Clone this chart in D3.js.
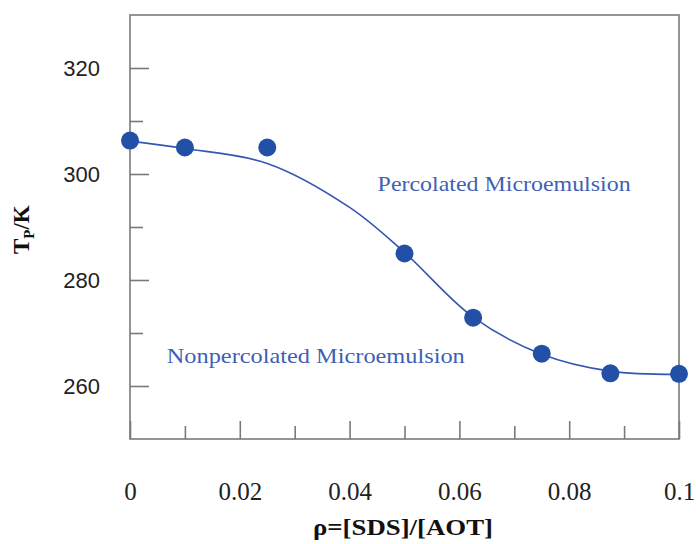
<!DOCTYPE html>
<meta charset="utf-8">
<html>
<head>
<script src="https://cdn.jsdelivr.net/npm/d3@7"></script>
<style>
  body { margin: 0; background: #fff; }
  .axis path, .axis line { stroke: #7a7a7a; stroke-width: 1.6; }
  .axis .domain { display: none; }
</style>
</head>
<body>
<div id="chart"></div>
<script>
  // measured points, rho = [SDS]/[AOT] vs percolation temperature
  const rho   = [0, 0.01, 0.025, 0.05, 0.0625, 0.075, 0.0875, 0.1];
  const tperc = [306.3, 305.0, 305.0, 285.0, 272.9, 266.1, 262.4, 262.3];

  // fitted curve
  const fitRho = [0, 0.01, 0.025, 0.04, 0.05, 0.0625, 0.075, 0.0875, 0.1];
  const fitT   = [306.2, 304.8, 302.0, 293.7, 285.2, 273.0, 266.0, 262.8, 262.2];

  const xMajor = [0, 0.02, 0.04, 0.06, 0.08, 0.1];
  const xMinor = [0.01, 0.03, 0.05, 0.07, 0.09];
  const yMajor = [260, 280, 300, 320];
  const yMinor = [270, 290, 310];

  const margin = {top: 15, right: 17, bottom: 105, left: 130},
      width = 696 - margin.left - margin.right,
      height = 544 - margin.top - margin.bottom;

  const blue = "#2150a6";

  const svg = d3.select("#chart")
    .append("svg")
      .attr("width", width + margin.left + margin.right)
      .attr("height", height + margin.top + margin.bottom)
    .append("g")
      .attr("transform", `translate(${margin.left},${margin.top})`);

  const x = d3.scaleLinear().domain([0, 0.1]).range([0, width]);
  const y = d3.scaleLinear().domain([250, 330]).range([height, 0]);

  // x axis, ticks pointing into the plot
  svg.append("g")
    .attr("class", "axis")
    .attr("transform", `translate(0,${height})`)
    .call(d3.axisBottom(x).tickValues(xMinor).tickSizeInner(-13).tickFormat(""));
  const xAxis = svg.append("g")
    .attr("class", "axis")
    .attr("transform", `translate(0,${height})`)
    .call(d3.axisBottom(x).tickValues(xMajor).tickSizeInner(-18).tickPadding(43)
      .tickFormat(d => String(+d.toFixed(2))));
  xAxis.selectAll("text")
    .style("font-family", "'Liberation Serif', serif")
    .style("font-size", "25px")
    .attr("fill", "#222");

  // y axis
  svg.append("g")
    .attr("class", "axis")
    .call(d3.axisLeft(y).tickValues(yMinor).tickSizeInner(-13).tickFormat(""));
  const yAxis = svg.append("g")
    .attr("class", "axis")
    .call(d3.axisLeft(y).tickValues(yMajor).tickSizeInner(-19).tickPadding(30));
  yAxis.selectAll("text")
    .style("font-family", "'Liberation Sans', Arial, sans-serif")
    .style("font-size", "22px")
    .attr("fill", "#222");

  // frame
  svg.append("rect")
    .attr("width", width)
    .attr("height", height)
    .attr("fill", "none")
    .attr("stroke", "#7a7a7a")
    .attr("stroke-width", 1.6);

  // fit curve
  const line = d3.line()
    .x((d, i) => x(d))
    .y((d, i) => y(fitT[i]))
    .curve(d3.curveCatmullRom.alpha(0.5));
  svg.append("path")
    .datum(fitRho)
    .attr("d", line)
    .attr("fill", "none")
    .attr("stroke", "#3556b3")
    .attr("stroke-width", 1.6);

  // points
  svg.selectAll("circle")
    .data(rho)
    .join("circle")
      .attr("cx", d => x(d))
      .attr("cy", (d, i) => y(tperc[i]))
      .attr("r", 9)
      .attr("fill", blue);

  // region labels
  svg.append("text")
    .attr("x", x(0.0451))
    .attr("y", y(296.8))
    .attr("fill", "#3f5fb5")
    .attr("textLength", 253)
    .attr("lengthAdjust", "spacingAndGlyphs")
    .style("font-family", "'Liberation Serif', serif")
    .style("font-size", "22px")
    .text("Percolated Microemulsion");
  svg.append("text")
    .attr("x", x(0.0067))
    .attr("y", y(264.4))
    .attr("fill", "#3f5fb5")
    .attr("textLength", 298)
    .attr("lengthAdjust", "spacingAndGlyphs")
    .style("font-family", "'Liberation Serif', serif")
    .style("font-size", "22px")
    .text("Nonpercolated Microemulsion");

  // axis titles
  svg.append("text")
    .attr("x", 403 - margin.left)
    .attr("y", height + 96)
    .attr("text-anchor", "middle")
    .attr("fill", "#111")
    .attr("textLength", 180)
    .attr("lengthAdjust", "spacingAndGlyphs")
    .style("font-family", "'Liberation Serif', serif")
    .style("font-size", "24px")
    .style("font-weight", "bold")
    .text("ρ=[SDS]/[AOT]");

  const yt = svg.append("text")
    .attr("transform", `translate(${-margin.left + 29},${y(289.5)}) rotate(-90)`)
    .attr("text-anchor", "middle")
    .attr("fill", "#111")
    .style("font-family", "'Liberation Serif', serif")
    .style("font-size", "23px")
    .style("font-weight", "bold");
  yt.append("tspan").text("T");
  yt.append("tspan").attr("dy", 5).style("font-size", "15px").text("P");
  yt.append("tspan").attr("dy", -5).text("/K");
</script>
</body>
</html>
